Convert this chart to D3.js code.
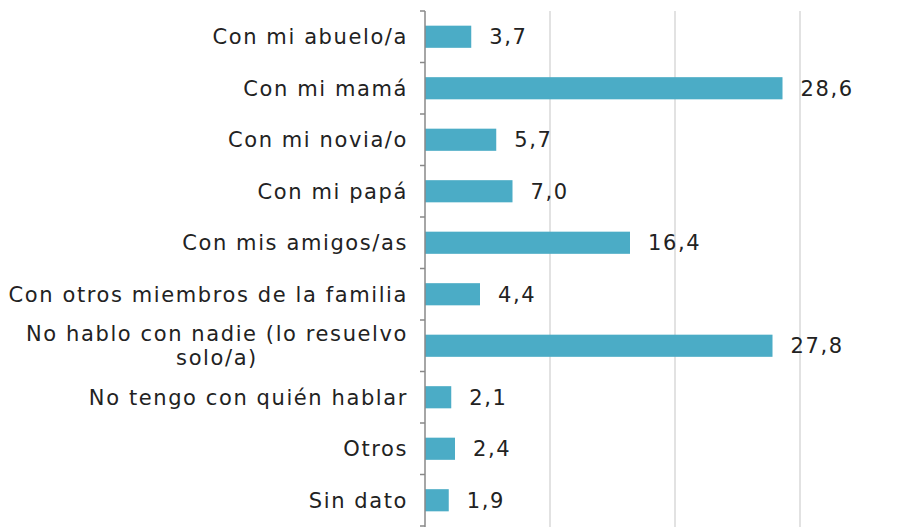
<!DOCTYPE html>
<html>
<head>
    <script src="https://d3js.org/d3.v7.min.js"></script>
    <style>
        body { margin: 0; background: #fff; }
        text { font-family: "DejaVu Sans", sans-serif; fill: #222; letter-spacing: 1.6px; }
    </style>
</head>
<body>
    <div id="chart"></div>

    <script>
        // datos
        const categories = [
            "Con mi abuelo/a",
            "Con mi mamá",
            "Con mi novia/o",
            "Con mi papá",
            "Con mis amigos/as",
            "Con otros miembros de la familia",
            "No hablo con nadie (lo resuelvo|solo/a)",
            "No tengo con quién hablar",
            "Otros",
            "Sin dato"
        ];
        const values = [3.7, 28.6, 5.7, 7.0, 16.4, 4.4, 27.8, 2.1, 2.4, 1.9];
        const gridTicks = [10, 20, 30];

        const width = 912, height = 527;
        const margin = {top: 11, right: 50, bottom: 1, left: 425};
        const fontSize = 21;

        const svg = d3.select("#chart")
            .append("svg")
            .attr("width", width)
            .attr("height", height);

        const x = d3.scaleLinear()
            .domain([0, 35])
            .range([margin.left, margin.left + 35 * 12.5]);

        const y = d3.scaleBand()
            .domain(categories)
            .range([margin.top, height - margin.bottom])
            .paddingInner(0.57)
            .paddingOuter(0.285);

        // líneas de cuadrícula
        svg.selectAll("line.grid")
            .data(gridTicks)
            .enter()
            .append("line")
            .attr("class", "grid")
            .attr("x1", d => x(d))
            .attr("x2", d => x(d))
            .attr("y1", margin.top)
            .attr("y2", height)
            .attr("stroke", "#d9d9d9")
            .attr("stroke-width", 1.5);

        // barras
        svg.selectAll("rect")
            .data(values)
            .enter()
            .append("rect")
            .attr("x", x(0))
            .attr("y", (d, i) => y(categories[i]))
            .attr("width", d => x(d) - x(0))
            .attr("height", y.bandwidth())
            .attr("fill", "#4bacc6");

        // etiquetas de valor
        svg.selectAll("text.val")
            .data(values)
            .enter()
            .append("text")
            .attr("class", "val")
            .attr("x", d => x(d) + 18)
            .attr("y", (d, i) => y(categories[i]) + y.bandwidth() / 2)
            .attr("dy", "0.36em")
            .attr("font-size", fontSize)
            .text(d => d.toFixed(1).replace(".", ","));

        // eje vertical con marcas entre categorías
        const axisX = margin.left;
        const step = y.step();
        const bounds = d3.range(categories.length + 1).map(i => margin.top + i * step);

        svg.append("line")
            .attr("x1", axisX).attr("x2", axisX)
            .attr("y1", margin.top).attr("y2", height)
            .attr("stroke", "#888")
            .attr("stroke-width", 1.5);

        svg.selectAll("line.tick")
            .data(bounds)
            .enter()
            .append("line")
            .attr("class", "tick")
            .attr("x1", axisX - 5).attr("x2", axisX)
            .attr("y1", d => d).attr("y2", d => d)
            .attr("stroke", "#888")
            .attr("stroke-width", 1.5);

        // etiquetas de categoría
        const labelRight = 408;
        categories.forEach(c => {
            const lines = c.split("|");
            const cy = y(c) + y.bandwidth() / 2;
            const t = svg.append("text")
                .attr("font-size", fontSize)
                .attr("text-anchor", "middle");
            lines.forEach((l, j) => {
                t.append("tspan")
                    .attr("y", cy + (j - (lines.length - 1) / 2) * 24)
                    .attr("dy", "0.36em")
                    .text(l);
            });
            const w = d3.max(t.selectAll("tspan").nodes(), n => n.getComputedTextLength());
            t.selectAll("tspan").attr("x", labelRight - w / 2);
        });
    </script>
</body>
</html>
